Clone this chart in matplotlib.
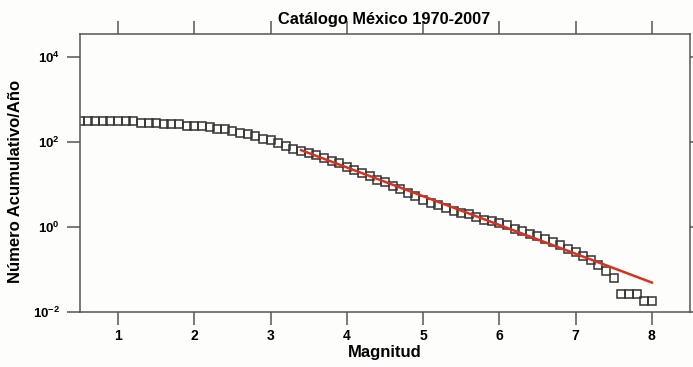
## Cumulative magnitude-frequency plot (Gutenberg-Richter) for the Mexico catalog

import numpy as np
import matplotlib
matplotlib.use("Agg")
import matplotlib.pyplot as plt
import matplotlib.ticker as mticker

plt.rcParams['font.family'] = ['Liberation Sans', 'DejaVu Sans']
plt.rcParams['font.weight'] = 'bold'
plt.rcParams['mathtext.fontset'] = 'custom'
plt.rcParams['mathtext.rm'] = 'Liberation Sans:bold'
plt.rcParams['mathtext.bf'] = 'Liberation Sans:bold'

### Data ###
magnitud = [0.5, 0.6, 0.7, 0.8, 0.9, 1.0, 1.1, 1.2, 1.3, 1.4,
            1.5, 1.6, 1.7, 1.8, 1.9, 2.0, 2.1, 2.2, 2.3, 2.4,
            2.5, 2.6, 2.7, 2.8, 2.9, 3.0, 3.1, 3.2, 3.3, 3.4,
            3.5, 3.6, 3.7, 3.8, 3.9, 4.0, 4.1, 4.2, 4.3, 4.4,
            4.5, 4.6, 4.7, 4.8, 4.9, 5.0, 5.1, 5.2, 5.3, 5.4,
            5.5, 5.6, 5.7, 5.8, 5.9, 6.0, 6.1, 6.2, 6.3, 6.4,
            6.5, 6.6, 6.7, 6.8, 6.9, 7.0, 7.1, 7.2, 7.3, 7.4,
            7.5, 7.6, 7.7, 7.8, 7.9, 8.0]
n_acum = [310, 310, 309, 308, 307, 306, 304, 300, 282, 279,
          276, 263, 260, 255, 240, 236, 232, 226, 204, 196,
          174, 158, 148, 135, 117, 107, 95, 79, 69, 59,
          55, 48, 42, 35, 31, 26, 22, 18.6, 15.5, 12.6,
          11.2, 8.9, 7.6, 6.3, 5.2, 4.3, 3.6, 3.2, 2.7, 2.4,
          2.1, 1.95, 1.66, 1.45, 1.35, 1.23, 1.10, 0.91, 0.79, 0.69,
          0.60, 0.52, 0.45, 0.37, 0.30, 0.25, 0.21, 0.17, 0.126, 0.093,
          0.063, 0.026, 0.026, 0.026, 0.0186, 0.0186]

## Gutenberg-Richter fit: log N = a - b M
a_gr = 4.10
b_gr = 0.676
m_ajuste = [3.4, 8.0]
#############

fig = plt.figure(figsize=(6.93, 3.67), dpi=100)
fig.patch.set_facecolor('#fdfdfb')
ax = fig.add_axes([0.1154, 0.1499, 0.8802, 0.7575])
ax.set_facecolor('#fdfdfb')

ax.plot(magnitud, n_acum, linestyle='none', marker='s', markersize=5.8,
        markerfacecolor='none', markeredgecolor='#333333', markeredgewidth=1.1, zorder=2)

m_fit = np.array(m_ajuste)
ax.plot(m_fit, 10 ** (a_gr - b_gr * m_fit), color='#d8321f', linewidth=1.8, zorder=3)

ax.set_yscale('log')
ax.set_xlim(0.5, 8.5)
ax.set_ylim(1e-2, 10 ** 4.53)

ax.xaxis.set_major_locator(mticker.FixedLocator([1, 2, 3, 4, 5, 6, 7, 8]))
ax.yaxis.set_major_locator(mticker.FixedLocator([1e-2, 1e0, 1e2, 1e4]))
ax.yaxis.set_minor_locator(mticker.NullLocator())
ax.yaxis.set_major_formatter(mticker.FuncFormatter(lambda v, p: r'$\mathbf{10^{%d}}$' % round(np.log10(v))))

ax.tick_params(axis='both', which='major', direction='out', length=9.4, width=1.1,
               color='#555555', top=True, right=True,
               labeltop=False, labelright=False)
ax.tick_params(axis='x', pad=3, labelsize=10)
ax.tick_params(axis='y', pad=5, labelsize=9.5)

for s in ax.spines.values():
    s.set_color('#555555')
    s.set_linewidth(1.1)

fig.text(0.555, 0.946, 'Catálogo México 1970-2007', ha='center', va='center',
         fontsize=11.8, fontweight='bold')
ax.set_xlabel('Magnitud', fontsize=12, fontweight='bold', labelpad=1)
ax.set_ylabel('Número Acumulativo/Año', fontsize=12, fontweight='bold')
ax.yaxis.set_label_coords(-0.094, 0.469)

plt.savefig('out.png', dpi=100, facecolor=fig.get_facecolor())
